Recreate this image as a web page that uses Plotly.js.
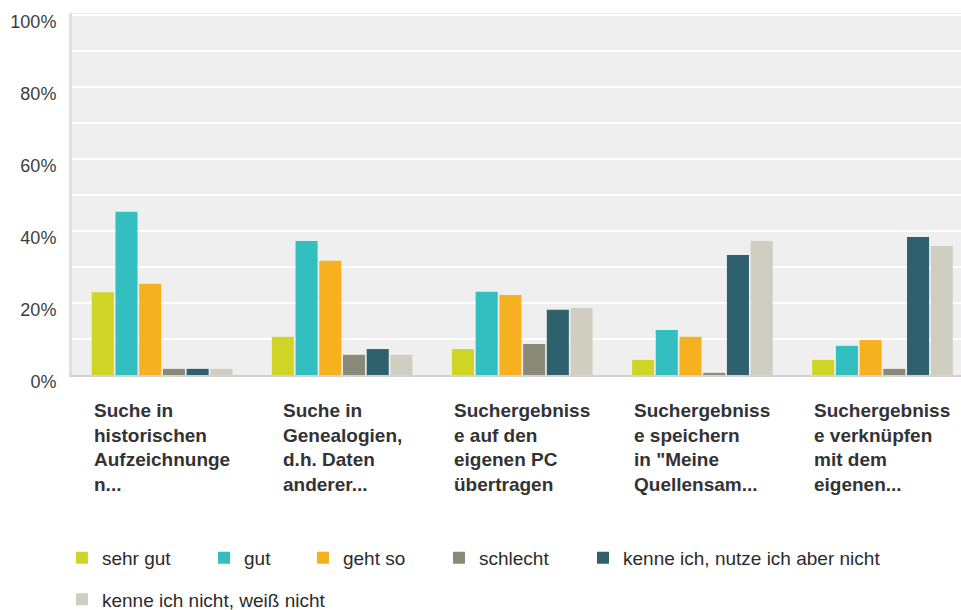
<!DOCTYPE html>
<html>
<head>
<meta charset="utf-8">
<script src="https://cdn.plot.ly/plotly-3.0.1.min.js"></script>
<style>
html,body{margin:0;padding:0;background:#fff;}
#chart{width:961px;height:610px;}
</style>
</head>
<body>
<div id="chart"></div>
<script>
// Categories (wrapped as in the reference)
const categories = [
  "Suche in<br>historischen<br>Aufzeichnunge<br>n...",
  "Suche in<br>Genealogien,<br>d.h. Daten<br>anderer...",
  "Suchergebniss<br>e auf den<br>eigenen PC<br>übertragen",
  "Suchergebniss<br>e speichern<br>in \"Meine<br>Quellensam...",
  "Suchergebniss<br>e verknüpfen<br>mit dem<br>eigenen..."
];
const seriesNames = [
  "sehr gut", "gut", "geht so", "schlecht",
  "kenne ich, nutze ich aber nicht", "kenne ich nicht, weiß nicht"
];
const seriesColors = ["#d0d426", "#33bec0", "#f7b01f", "#8b8a79", "#2e606e", "#d0cec0"];

// Values in percent
const sehrGut    = [23.0, 10.6, 7.2, 4.2, 4.2];
const gut        = [45.3, 37.2, 23.1, 12.5, 8.1];
const gehtSo     = [25.3, 31.7, 22.2, 10.6, 9.7];
const schlecht   = [1.7, 5.6, 8.6, 0.6, 1.7];
const nutzeNicht = [1.7, 7.2, 18.1, 33.3, 38.3];
const kenneNicht = [1.7, 5.6, 18.6, 37.2, 35.8];

const yTickVals = [0, 20, 40, 60, 80, 100];
const yTickText = ["0%", "20%", "40%", "60%", "80%", "100%"];

// Legend entry placement (paper coordinates), one legend box per entry
const legendX = [-0.0113, 0.1485, 0.2598, 0.4128, 0.5748, -0.0113];
const legendY = [-0.505, -0.505, -0.505, -0.505, -0.505, -0.62];

const allSeries = [sehrGut, gut, gehtSo, schlecht, nutzeNicht, kenneNicht];
const xIdx = categories.map((_, i) => i);
const legendIds = seriesNames.map((_, k) => k === 0 ? "legend" : "legend" + (k + 1));

const traces = allSeries.map((vals, k) => ({
  type: "bar",
  name: seriesNames[k],
  x: xIdx,
  y: vals,
  marker: { color: seriesColors[k] },
  legend: legendIds[k],
  hoverinfo: "skip"
}));

const annotations = categories.map((c, i) => ({
  x: i, xref: "x",
  y: 0, yref: "paper",
  yshift: -23,
  xanchor: "center", yanchor: "top",
  align: "left",
  showarrow: false,
  text: "<b>" + c + "</b>",
  font: { family: "Liberation Sans, Arial, sans-serif", size: 19, color: "#333333" }
}));

const layout = {
  width: 961, height: 610,
  margin: { l: 72, r: 0, t: 13, b: 235, autoexpand: false },
  paper_bgcolor: "#ffffff",
  plot_bgcolor: "#efefef",
  barmode: "group",
  bargap: 0.21,
  bargroupgap: 0.07,
  showlegend: true,
  font: { family: "Liberation Sans, Arial, sans-serif", color: "#333333" },
  xaxis: {
    range: [-0.5, 4.436],
    showticklabels: false,
    showgrid: false,
    zeroline: false,
    showline: true,
    linecolor: "#d2d2d2",
    linewidth: 2,
    ticks: "",
    fixedrange: true
  },
  yaxis: {
    range: [0, 100.47],
    tickvals: yTickVals,
    ticktext: yTickText,
    showgrid: true,
    gridcolor: "#ffffff",
    gridwidth: 2,
    minor: { dtick: 10, showgrid: true, gridcolor: "#ffffff", gridwidth: 2 },
    zeroline: false,
    showline: true,
    linecolor: "#e0e0e0",
    linewidth: 3,
    ticks: "",
    ticklabelstandoff: 9,
    ticklabelshift: 7,
    tickfont: { size: 18, color: "#3d3d3d" },
    fixedrange: true
  },
  annotations: annotations
};

legendIds.forEach((id, k) => {
  layout[id] = {
    orientation: "h",
    x: legendX[k], xanchor: "left",
    y: legendY[k], yanchor: "middle",
    font: { size: 19, color: "#2b2b2b" },
    bgcolor: "rgba(0,0,0,0)",
    itemclick: false,
    itemdoubleclick: false
  };
});

Plotly.newPlot("chart", traces, layout, { displayModeBar: false, staticPlot: true });
</script>
</body>
</html>
